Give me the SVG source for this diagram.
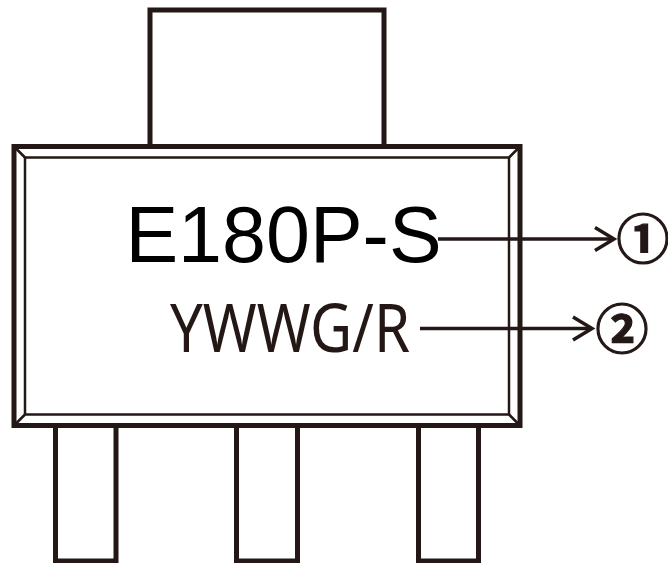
<svg xmlns="http://www.w3.org/2000/svg" width="668" height="563" viewBox="0 0 668 563">
<defs>
<style>
.thick{fill:#fff;stroke:#231815;stroke-width:5}
.thin{fill:none;stroke:#231815;stroke-width:2.5}
.conn{fill:none;stroke:#231815;stroke-width:3.5}
.mark{font-family:"Liberation Sans",Arial,sans-serif;fill:#000}
.code{font-family:"Noto Sans","Open Sans",sans-serif;fill:#231815}
.num{font-family:"Noto Sans CJK SC","Noto Sans",sans-serif;font-weight:bold;fill:#231815;stroke:#231815;stroke-width:1.2}
</style>
<marker id="chev" markerUnits="userSpaceOnUse" markerWidth="30" markerHeight="30" refX="0" refY="0" viewBox="-25 -15 30 30" orient="auto" overflow="visible">
<path d="M -19 -11.5 L 0 0 L -19 11.5" fill="none" stroke="#231815" stroke-width="3.5"/>
</marker>
</defs>
<g id="tab"><rect class="thick" x="150" y="10" width="234" height="136.5"/></g>
<g id="pin1"><rect class="thick" x="55.5" y="425.5" width="60.5" height="135.5"/></g>
<g id="pin2"><rect class="thick" x="236.5" y="425.5" width="61" height="135.5"/></g>
<g id="pin3"><rect class="thick" x="418.5" y="425.5" width="60" height="135.5"/></g>
<g id="body">
<rect class="thick" x="14" y="146.5" width="506" height="279"/>
<rect class="thin" x="25" y="157.5" width="484" height="257"/>
<path class="thin" d="M16 148.5 L25 157.5 M518 148.5 L509 157.5 M16 423.5 L25 414.5 M518 423.5 L509 414.5"/>
<text class="mark" x="125.4" y="262" font-size="79">E180P-S</text>
<text class="code" x="170" y="352" font-size="68" textLength="240" lengthAdjust="spacingAndGlyphs">YWWG/R</text>
</g>
<g id="connectors">
<line class="conn" x1="438" y1="239" x2="614" y2="239" marker-end="url(#chev)"/>
<line class="conn" x1="420" y1="328.5" x2="592" y2="328.5" marker-end="url(#chev)"/>
</g>
<g id="label1"><text class="num" x="643" y="259" font-size="53" text-anchor="middle">①</text></g>
<g id="label2"><text class="num" x="622" y="348.5" font-size="53" text-anchor="middle">②</text></g>
</svg>
